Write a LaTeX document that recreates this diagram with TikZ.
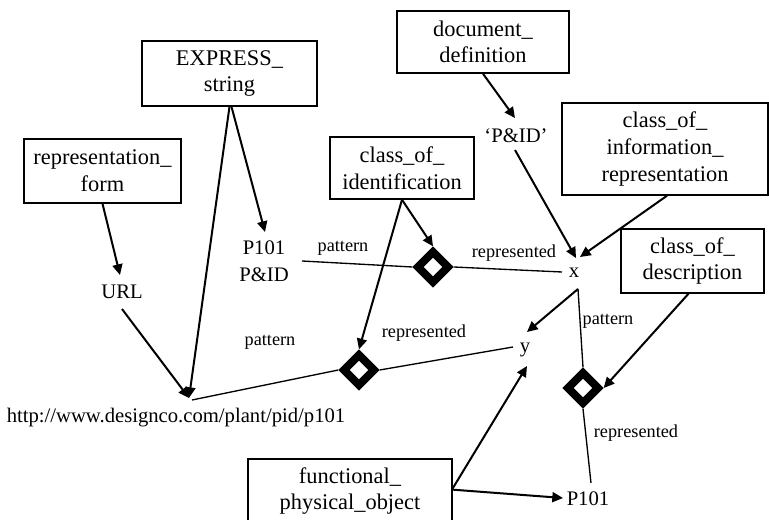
\documentclass[tikz,border=0pt]{standalone}
\usepackage{fontspec}
\setmainfont{Liberation Serif}
\usetikzlibrary{shapes.geometric,arrows.meta}
\begin{document}
\begin{tikzpicture}[x=0.75pt,y=-0.75pt,
 box/.style={draw,line width=1.1pt,align=center,inner sep=0pt,font=\fontsize{16.8}{20}\selectfont},
 txt/.style={inner sep=0pt,align=center,font=\fontsize{15.5}{20}\selectfont},
 lbl/.style={inner sep=0pt,font=\fontsize{13.7}{15}\selectfont},
 dia/.style={diamond,draw,line width=6pt,minimum width=25pt,minimum height=25pt,inner sep=0pt},
 arr/.style={line width=1.5pt,-{Triangle[length=8pt,width=7.5pt]}},
 ln/.style={line width=1pt}]
\useasboundingbox (0,0) rectangle (769,520);
% boxes
\node[box,minimum width=131.25pt,minimum height=48.75pt] (expr) at (229.5,73.5) {EXPRESS\_\\string};
\node[box,minimum width=117.75pt,minimum height=48pt] (repf) at (102.5,171) {representation\_\\form};
\node[box,minimum width=108pt,minimum height=46.5pt] (coid) at (402,168) {class\_of\_\\identification};
\node[box,minimum width=129pt,minimum height=46.5pt] (docdef) at (483,42) {document\_\\definition};
\node[box,minimum width=154.5pt,minimum height=69pt] (coir) at (665,149) {class\_of\_\\information\_\\representation};
\node[box,minimum width=107.25pt,minimum height=48pt] (codesc) at (692.5,261) {class\_of\_\\description};
\node[box,minimum width=153pt,minimum height=48pt] (fpo) at (350,491) {functional\_\\physical\_object};
% text nodes
\node[txt] (pid) at (264,261) {P101\\P\&ID};
\node[txt] (url) at (122,291.5) {URL};
\node[txt] (http) at (176,418) {http://www.designco.com/plant/pid/p101};
\node[txt] (qpid) at (516,136) {‘P\&ID’};
\node[txt] (xn) at (574,273) {x};
\node[txt] (yn) at (525,350) {y};
\node[txt] (p101) at (588,499) {P101};
% diamonds
\node[dia] (d1) at (433,267) {};
\node[dia] (d2) at (359,370) {};
\node[dia] (d3) at (583,388) {};
% labels
\node[lbl] at (343,248) {pattern};
\node[lbl] at (514,253) {represented};
\node[lbl] at (270,342) {pattern};
\node[lbl] at (424,333) {represented};
\node[lbl] at (608,321) {pattern};
\node[lbl] at (636,433) {represented};
% connection points
\coordinate (url-top) at (120,275);
\coordinate (url-bot) at (122,309);
\coordinate (http-in) at (189,398);
\coordinate (http-out) at (192,400);
\coordinate (pid-top) at (265,232);
\coordinate (pid-r) at (302,261);
\coordinate (qpid-top) at (515,118);
\coordinate (qpid-bot) at (515,150);
\coordinate (x-top) at (576,258);
\coordinate (x-top2) at (580,257);
\coordinate (x-l) at (562,272);
\coordinate (x-bot) at (578,289);
\coordinate (y-top) at (527,332);
\coordinate (y-l) at (513,347);
\coordinate (y-bot) at (527,366);
\coordinate (p-top) at (591,483);
\coordinate (p-l) at (563,498);
% connectors
\draw[arr] (repf.south) -- (url-top);
\draw[arr] (url-bot) -- (http-in);
\draw[arr] (expr.south) -- (http-in);
\draw[arr] ([xshift=1.5pt]expr.south) -- (pid-top);
\draw[ln] (pid-r) -- (d1.west);
\draw[ln] (d1.east) -- (x-l);
\draw[arr] (coid.south) -- (d1.north);
\draw[arr] (coid.south) -- (d2.north);
\draw[ln] (http-out) -- (d2.west);
\draw[ln] (d2.east) -- (y-l);
\draw[arr] (docdef.south) -- (qpid-top);
\draw[arr] (qpid-bot) -- (x-top);
\draw[arr] ([xshift=1.5pt]coir.south) -- (x-top2);
\draw[arr] (x-bot) -- (y-top);
\draw[ln] (x-bot) -- (d3.north);
\draw[ln] (d3.south) -- (p-top);
\draw[arr] ([xshift=-3pt]codesc.south) -- (d3.east);
\draw[arr] ([yshift=2pt]fpo.east) -- (y-bot);
\draw[arr] ([yshift=1pt]fpo.east) -- (p-l);
\end{tikzpicture}
\end{document}
